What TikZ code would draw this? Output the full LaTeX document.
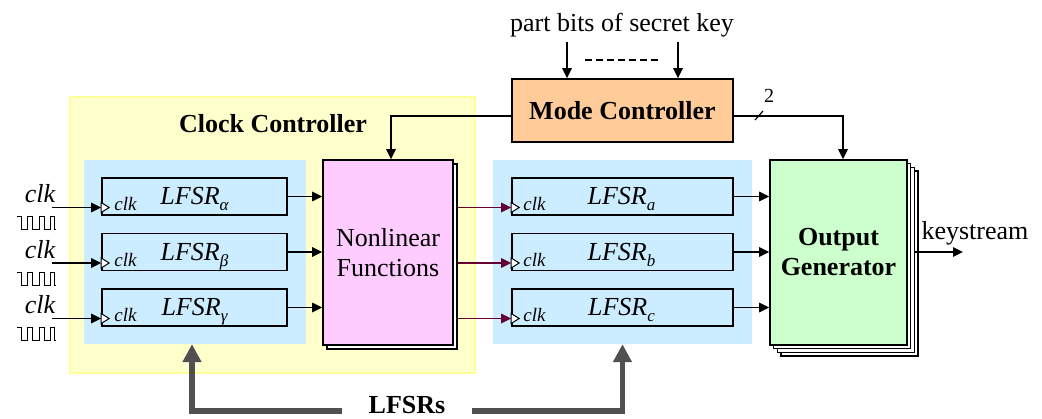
\documentclass[tikz,border=0pt]{standalone}
\usepackage{fontspec}
\setmainfont{Liberation Serif}
\usetikzlibrary{arrows.meta}

\definecolor{ccyellow}{HTML}{FFFFCC}
\definecolor{ccyellowedge}{HTML}{FFFF99}
\definecolor{regblue}{HTML}{CCECFF}
\definecolor{nlpink}{HTML}{FFCCFF}
\definecolor{modeorange}{HTML}{FFCC99}
\definecolor{outgreen}{HTML}{CCFFCC}
\definecolor{clkmaroon}{HTML}{660033}
\definecolor{busgray}{HTML}{505050}

\newcommand{\fsz}[1]{\fontsize{#1}{#1}\selectfont}

\begin{document}
\begin{tikzpicture}[x=1pt,y=-1pt,
  panel/.style={inner sep=0pt, minimum width=#1},
  frame/.style={draw, line width=1.6pt, inner sep=0pt},
  reg/.style={frame, fill=regblue, minimum width=#1, minimum height=37pt},
  sheet/.style={frame, fill=white, line width=1.3pt, minimum width=#1, minimum height=185pt},
  arr/.style={line width=1.7pt, -{Triangle[length=10pt,width=9.5pt]}},
  bus/.style={line width=5.5pt, busgray, -{Triangle[length=18pt,width=18pt]}},
  clktri/.style={draw, fill=white, line width=1pt, line join=miter},
  wave/.style={line width=1pt},
  big/.style={font=\fsz{26}},
  bigbf/.style={font=\fsz{26}\bfseries},
  bigit/.style={font=\fsz{26}\itshape},
  smallit/.style={font=\fsz{19}\itshape}]

\useasboundingbox (0,0) rectangle (1042,419);

% background panels
\node[panel=405pt, minimum height=276pt, fill=ccyellow, draw=ccyellowedge, line width=1.2pt] (cc) at (272.5,235) {};
\node[bigbf, anchor=base] (cclbl) at (273,133) {Clock Controller};
\node[panel=222pt, minimum height=184pt, fill=regblue] (bl) at (195,252) {};
\node[panel=259pt, minimum height=184pt, fill=regblue] (br) at (622.5,252) {};

% nonlinear function block with one sheet behind it
\node[sheet=130pt] (nlb) at (392,256.5) {};
\node[frame, fill=nlpink, minimum width=130pt, minimum height=185pt, align=center,
      font=\fsz{26}, execute at begin node={\baselineskip=30pt}] (nl) at (388,252.5) {Nonlinear\\Functions};

% output generator, a stack of sheets
\node[sheet=137pt] (og3) at (849.5,263.5) {};
\node[sheet=137pt] (og2) at (845.8,259.8) {};
\node[sheet=137pt] (og1) at (842.2,256.2) {};
\node[frame, fill=outgreen, minimum width=137pt, minimum height=185pt, align=center,
      font=\fsz{26}\bfseries, execute at begin node={\baselineskip=30pt}] (og) at (838.5,252.5) {Output\\Generator};

% mode controller and its key inputs
\node[frame, fill=modeorange, minimum width=221pt, minimum height=63pt, bigbf] (mode) at (622.5,110.5) {Mode Controller};
\node[big, anchor=base] (keylbl) at (622,32) {part bits of secret key};
\coordinate (k1) at (567,42);
\coordinate (k2) at (678,42);
\draw[arr] (k1) -- (k1 |- mode.north);
\draw[arr] (k2) -- (k2 |- mode.north);
\draw[line width=1.3pt, dash pattern=on 7pt off 4pt] (585,60) -- (660,60);

\draw[arr] ([yshift=-5.5pt]mode.west) -| ([xshift=3pt]nl.north);
\draw[arr] ([yshift=-5.5pt]mode.east) -| ([xshift=4.5pt]og.north);
\draw[line width=1.2pt] (755,120) -- (763,111);
\node[font=\fsz{20}] (two) at (769,96) {2};

% register rows
\foreach \i/\yc/\g/\s in {1/196.5/α/a, 2/252/β/b, 3/307.5/γ/c}{
  % clock-controlling registers
  \node[reg=185pt] (L\i) at (194.5,\yc) {};
  \node[bigit, anchor=base] (Llbl\i) at ([yshift=-8.5pt]L\i.center)
    {LFSR\raisebox{-6pt}{\fsz{17}\g}};
  \node[smallit, anchor=base west, inner sep=0pt] (Lclk\i) at ([xshift=13pt,yshift=-14.5pt]L\i.west) {clk};
  % clocked registers
  \node[reg=221pt] (R\i) at (622.5,\yc) {};
  \node[bigit, anchor=base] (Rlbl\i) at ([xshift=-1pt,yshift=-8.5pt]R\i.center)
    {LFSR\raisebox{-6pt}{\fsz{17}\s}};
  \node[smallit, anchor=base west, inner sep=0pt] (Rclk\i) at ([xshift=12pt,yshift=-14.5pt]R\i.west) {clk};

  % external clock input with its waveform
  \node[bigit, anchor=base] (clk\i) at (40,{\yc+6.5}) {clk};
  \coordinate (in\i) at (52,{\yc+11});
  \draw[arr] (in\i) -- (in\i -| L\i.west);
  \draw[wave] (17,{\yc+20.5}) -- ++(4,0) -- ++(0,13) -- ++(6.5,0) -- ++(0,-13)
    -- ++(5,0) -- ++(0,13) -- ++(6.5,0) -- ++(0,-13)
    -- ++(5,0) -- ++(0,13) -- ++(6.5,0) -- ++(0,-13)
    -- ++(4,0) -- ++(0,13) -- ++(1,0);

  % data paths
  \draw[arr] (L\i.east) -- (L\i.east -| nl.west);
  \draw[arr] (R\i.east) -- (R\i.east -| og.west);
  \coordinate (ck\i) at ([yshift=-11pt]R\i.west);
  \draw[arr, clkmaroon] (ck\i -| nlb.east) -- (ck\i);

  % clock input symbols
  \path[clktri] ([yshift=-11pt]L\i.west) ++(0,-5) -- ++(8,5) -- ++(-8,5) -- cycle;
  \path[clktri] (ck\i) ++(0,-5) -- ++(8,5) -- ++(-8,5) -- cycle;
}

% keystream output
\coordinate (ks) at (963,252);
\draw[arr, line width=1.4pt] (og2.east |- ks) -- (ks);
\node[big, anchor=base] (kslbl) at (975,240) {keystream};

% register bus
\node[bigbf, inner xsep=27pt, inner ysep=0pt] (lfsrs) at (407,405) {LFSRs};
\draw[bus] ([yshift=-6pt]lfsrs.west) -| ([xshift=-3pt]bl.south);
\draw[bus] ([yshift=-6pt]lfsrs.east) -| (br.south);

\end{tikzpicture}
\end{document}
